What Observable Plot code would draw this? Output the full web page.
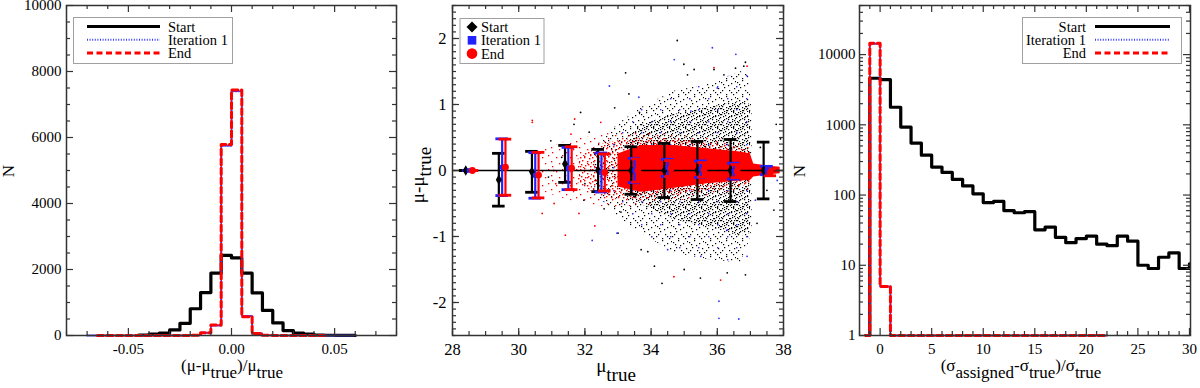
<!DOCTYPE html>
<html><head><meta charset="utf-8">
<script src="https://cdn.jsdelivr.net/npm/d3@7"></script>
<script src="https://cdn.jsdelivr.net/npm/@observablehq/plot@0.6"></script>
<style>
body{margin:0;background:#fff;}
#wrap{position:relative;width:1200px;height:388px;overflow:hidden;background:#fff;font-family:'Liberation Serif','DejaVu Serif',serif;}
.panel{position:absolute;top:0;width:400px;height:388px;}
.panel svg{overflow:visible;}
.panel svg text{font-family:'Liberation Serif','DejaVu Serif',serif !important;}
</style></head><body>
<svg width="0" height="0" style="position:absolute;left:0;top:0">
<defs>
<pattern id="blkSparse" width="16" height="16" patternUnits="userSpaceOnUse">
<g fill="#000">
<rect x="1" y="2" width="1.2" height="1.2"/><rect x="6" y="0" width="1.2" height="1.2"/><rect x="11" y="3" width="1.2" height="1.2"/>
<rect x="14" y="8" width="1.2" height="1.2"/><rect x="4" y="7" width="1.2" height="1.2"/><rect x="9" y="10" width="1.2" height="1.2"/>
<rect x="0" y="12" width="1.2" height="1.2"/><rect x="13" y="14" width="1.2" height="1.2"/><rect x="6" y="14" width="1.2" height="1.2"/>
<rect x="8" y="5" width="1.2" height="1.2"/><rect x="2" y="10" width="1.2" height="1.2"/><rect x="15" y="1" width="1.2" height="1.2"/>
<rect x="11" y="12" width="1.2" height="1.2"/><rect x="3" y="4" width="1.2" height="1.2"/>
</g></pattern>
<pattern id="blkDense" width="16" height="16" patternUnits="userSpaceOnUse">
<g fill="#000">
<rect x="2" y="0" width="1.2" height="1.2"/><rect x="8" y="1" width="1.2" height="1.2"/><rect x="13" y="0" width="1.2" height="1.2"/>
<rect x="5" y="3" width="1.2" height="1.2"/><rect x="11" y="4" width="1.2" height="1.2"/><rect x="0" y="5" width="1.2" height="1.2"/>
<rect x="15" y="6" width="1.2" height="1.2"/><rect x="3" y="8" width="1.2" height="1.2"/><rect x="8" y="7" width="1.2" height="1.2"/>
<rect x="12" y="9" width="1.2" height="1.2"/><rect x="6" y="11" width="1.2" height="1.2"/><rect x="1" y="12" width="1.2" height="1.2"/>
<rect x="10" y="13" width="1.2" height="1.2"/><rect x="14" y="12" width="1.2" height="1.2"/><rect x="4" y="15" width="1.2" height="1.2"/>
<rect x="7" y="14" width="1.2" height="1.2"/><rect x="13" y="15" width="1.2" height="1.2"/><rect x="9" y="4" width="1.2" height="1.2"/>
<rect x="4" y="1" width="1.2" height="1.2"/><rect x="10" y="10" width="1.2" height="1.2"/><rect x="1" y="9" width="1.2" height="1.2"/>
<rect x="14" y="3" width="1.2" height="1.2"/><rect x="6" y="6" width="1.2" height="1.2"/><rect x="11" y="15" width="1.2" height="1.2"/>
<rect x="3" y="13" width="1.2" height="1.2"/><rect x="15" y="10" width="1.2" height="1.2"/><rect x="12" y="7" width="1.2" height="1.2"/>
<rect x="0" y="2" width="1.2" height="1.2"/><rect x="8" y="12" width="1.2" height="1.2"/>
</g></pattern>
<pattern id="bluSparse" width="19" height="23" patternUnits="userSpaceOnUse">
<rect x="4" y="6" width="1.4" height="1.4" fill="#33f"/><rect x="13" y="17" width="1.4" height="1.4" fill="#33f"/>
</pattern>
<pattern id="redVerySparse" width="14" height="14" patternUnits="userSpaceOnUse">
<g fill="#f00">
<rect x="2" y="3" width="1.3" height="1.3"/><rect x="8" y="1" width="1.3" height="1.3"/>
<rect x="5" y="9" width="1.3" height="1.3"/><rect x="11" y="7" width="1.3" height="1.3"/><rect x="12" y="12" width="1.3" height="1.3"/>
</g></pattern>
<pattern id="redSparse" width="12" height="12" patternUnits="userSpaceOnUse">
<g fill="#f00">
<rect x="0" y="1" width="1.4" height="1.4"/><rect x="4" y="0" width="1.4" height="1.4"/><rect x="9" y="2" width="1.4" height="1.4"/>
<rect x="2" y="4" width="1.4" height="1.4"/><rect x="7" y="5" width="1.4" height="1.4"/><rect x="11" y="6" width="1.4" height="1.4"/>
<rect x="1" y="8" width="1.4" height="1.4"/><rect x="5" y="9" width="1.4" height="1.4"/><rect x="10" y="10" width="1.4" height="1.4"/>
<rect x="3" y="11" width="1.4" height="1.4"/><rect x="8" y="8" width="1.4" height="1.4"/>
</g></pattern>
</defs></svg>
<div id="wrap"></div>
<script>
// ---------------- DATA ----------------
// Panel 1: histogram of (mu - mu_true)/mu_true, bin edges and counts per bin
const p1Edges = [-0.07,-0.065,-0.06,-0.055,-0.05,-0.045,-0.04,-0.035,-0.03,-0.025,-0.02,-0.015,-0.01,-0.005,0,0.005,0.01,0.015,0.02,0.025,0.03,0.035,0.04,0.045,0.05,0.055,0.06,0.065];
const p1Start = [null,null,null,null,null,15,40,70,170,370,810,1300,1890,2430,2350,1890,1290,760,380,150,70,40,15,8,4,2,null];
const p1Iter1 = [0,0,0,0,0,0,0,0,0,2,10,80,300,5750,7400,590,60,10,3,0,0,0,0,0,0,0,null];
const p1End   = [null,0,0,0,0,0,0,0,0,2,10,80,320,5790,7440,570,60,10,3,0,0,0,0,null,null,null,null];
const p1XTicks = [-0.05, 0, 0.05];
const p1XMinor = [-0.08,-0.07,-0.06,-0.04,-0.03,-0.02,-0.01,0.01,0.02,0.03,0.04,0.06,0.07,0.08];
const p1YTicks = [0, 2000, 4000, 6000, 8000, 10000];
const p1YMinor = [500,1000,1500,2500,3000,3500,4500,5000,5500,6500,7000,7500,8500,9000,9500];

// Panel 2: binned means and scatter of mu - mu_true versus mu_true
const startX = [28.4,29.4,30.4,31.4,32.4,33.4,34.4,35.4,36.4,37.4];
const startMean = [0,-0.14,-0.02,0.10,0.0,0.0,0.0,0.0,0.0,0.0];
const startErr = [0,0.40,0.31,0.28,0.32,0.36,0.41,0.44,0.47,0.43];
const iterX = [28.5,29.5,30.5,31.5,32.5,33.5,34.5,35.5,36.5,37.5];
const iterMean = [0,0.05,-0.075,0.03,-0.03,0.0,0.04,0.02,-0.01,0.0];
const iterErr = [0,0.43,0.345,0.32,0.295,0.185,0.13,0.125,0.12,0.063];
const endX = [28.6,29.6,30.6,31.6,32.6,33.6,34.6,35.6,36.6,37.6];
const endMean = [0,0.05,-0.07,0.035,-0.03,0.0,0.03,0.01,-0.01,-0.03];
const endErr = [0,0.425,0.345,0.325,0.28,0.175,0.12,0.11,0.1,0.05];
// envelopes of the dense point clouds
const blackCloudX  = [32.3,33.0,33.7,34.7,35.7,36.7,36.95,37.05];
const blackCloudUp = [0.35,0.7,0.95,1.2,1.3,1.5,1.45,0.9];
const blackCloudLo = [-0.35,-0.7,-0.95,-1.25,-1.35,-1.4,-1.1,-0.9];
const blackCoreX  = [33.3,33.7,34.7,35.7,36.7,37.0];
const blackCoreUp = [0.5,0.7,0.85,0.95,1.05,1.0];
const blackCoreLo = [-0.45,-0.5,-0.75,-0.85,-1.0,-0.95];
const redHaloX  = [30.6,31.5,32.5,33.5,34.5,35.5,36.5,37.0];
const redHaloUp = [0.3,0.45,0.55,0.6,0.55,0.5,0.45,0.35];
const redHaloLo = [-0.3,-0.45,-0.55,-0.55,-0.5,-0.4,-0.35,-0.3];
const redFringeX  = [31.8,32.5,33.0,33.7,34.7,35.7,36.7,37.0];
const redFringeUp = [0.2,0.4,0.45,0.5,0.48,0.42,0.36,0.3];
const redFringeLo = [-0.2,-0.4,-0.45,-0.45,-0.38,-0.3,-0.25,-0.2];
const redCoreX  = [33.0,33.7,34.7,35.7,36.7,37.0,37.1,37.5,37.9];
const redCoreUp = [0.25,0.38,0.38,0.33,0.28,0.25,0.1,0.07,0.05];
const redCoreLo = [-0.25,-0.33,-0.27,-0.2,-0.16,-0.15,-0.1,-0.07,-0.05];
// individual scattered points
const startPtsX = [34.79,34.99,35.30,35.90,36.85,36.80,33.23,31.87,37.91,34.33,35.49,36.85,37.71,37.78,37.91,33.33,31.67,30.97,32.13,31.97,32.58,33.09,33.50,33.65,33.90,33.70,33.90,35.1,36.2,36.55,34.1,35.0,36.3,37.3,37.5,37.2,37.6,32.9,32.3,31.3,30.9,32.0,33.0];
const startPtsY = [1.97,1.61,1.53,1.53,1.64,1.58,1.48,0.88,0.48,-1.71,-1.63,-1.58,-0.60,0.70,0.20,1.16,0.70,0.45,0.58,-0.45,-0.58,-0.63,-0.40,0.88,0.55,-1.20,-1.23,1.45,1.45,1.55,-1.45,-1.5,-1.55,0.35,-0.3,-0.8,0.05,0.95,0.25,0.2,-0.1,-0.2,-0.95];
const iterPtsX = [35.85,36.56,34.70,32.74,33.63,32.22,32.97,36.05,36.05,36.65,37.15,37.81,36.0,35.5,34.5,36.9,35.2,36.3];
const iterPtsY = [1.86,1.76,1.68,1.28,1.11,-1.06,-0.95,-1.98,-2.24,-2.25,-0.45,-0.15,1.25,-1.3,-1.2,-1.3,0.9,-0.9];
const endPtsX = [30.41,30.41,31.69,30.71,31.41,34.69,36.10,31.07,32.30,31.06,31.12,31.82,32.48,31.58,35.9,36.9];
const endPtsY = [0.76,0.73,0.78,-0.65,-0.98,-1.61,-1.66,-0.50,-0.84,0.0,-0.2,-0.65,0.73,0.55,1.56,1.58];
const p2XTicks = [28,30,32,34,36,38];
const p2YTicks = [-2,-1,0,1,2];

// Panel 3: histogram of (sigma_assigned - sigma_true)/sigma_true (log counts)
const p3Edges = [-1.4,-1,0,1,2,3,4,5,6,7,8,9,10,11,12,13,14,15,16,17,18,19,20,21,22,23,24,25,26,27,28,29,30,31];
const p3Start = [1,4600,4400,1780,930,550,370,250,210,167,135,104,78,81,60,56,58,32,35,25,21,24,26,20,19,26,22,10,9,13,15,9,10.5];
const p3Iter1 = [1,14300,5,1,1,1,1,1,1,1,1,1,1,1,1,1,1,1,1,1,1,1,1,1,null,null,null,null,null,null,null,null,null];
const p3End   = [1,14500,5,1,1,1,1,1,1,1,1,1,1,1,1,1,1,1,1,1,1,1,1,1,null,null,null,null,null,null,null,null,null];
const p3XTicks = [0,5,10,15,20,25,30];
const p3YTicks = [1,10,100,1000,10000];

// ---------------- HELPERS ----------------
const FONT = "'Liberation Serif', 'DejaVu Serif', serif";
const FRAME = "#333";
function steps(edges, counts) {
  const out = [];
  counts.forEach((c, i) => { if (c == null) return; out.push({x: edges[i], y: c}); out.push({x: edges[i + 1], y: c}); });
  return out;
}
function band(xs, up, lo) { return xs.map((x, i) => ({x, y1: lo[i], y2: up[i]})); }
function pts(xs, ys) { return xs.map((x, i) => ({x, y: ys[i]})); }
function range(a, b, s) { const r = []; for (let v = a; v <= b + 1e-9; v += s) r.push(+v.toFixed(6)); return r; }
function frameTicks(xMaj, xMin, yMaj, yMin, w, h, mj = 7, mn = 4) {
  const o = {stroke: FRAME, strokeWidth: 1.2};
  return [
    Plot.tickX(xMaj, {x: d => d, insetTop: h - mj, ...o}), Plot.tickX(xMaj, {x: d => d, insetBottom: h - mj, ...o}),
    Plot.tickX(xMin, {x: d => d, insetTop: h - mn, ...o}), Plot.tickX(xMin, {x: d => d, insetBottom: h - mn, ...o}),
    Plot.tickY(yMaj, {y: d => d, insetRight: w - mj, ...o}), Plot.tickY(yMaj, {y: d => d, insetLeft: w - mj, ...o}),
    Plot.tickY(yMin, {y: d => d, insetRight: w - mn, ...o}), Plot.tickY(yMin, {y: d => d, insetLeft: w - mn, ...o}),
    Plot.frame({stroke: FRAME, strokeWidth: 1.5})
  ];
}
function label(svg, {x, y, rotate = false, size = 17, parts, shift = 6}) {
  const t = svg.append("text").style("font-family", FONT).attr("font-size", size)
    .attr("text-anchor", "middle").attr("fill", "#000");
  if (rotate) t.attr("transform", `translate(${x},${y}) rotate(-90)`); else t.attr("x", x).attr("y", y);
  let cur = 0;
  parts.forEach(([s, sub]) => {
    const want = sub ? shift : 0;
    t.append("tspan").attr("dy", want - cur).text(s);
    cur = want;
  });
}
function lineLegend(svg, {bx, by, bw, bh, rows, lx1, lx2, tx, anchor}) {
  svg.append("rect").attr("x", bx).attr("y", by).attr("width", bw).attr("height", bh)
    .attr("fill", "#fff").attr("stroke", "#a0a0a0").attr("stroke-width", 1);
  rows.forEach((r, i) => {
    const y = by + 9 + i * 13.3;
    svg.append("line").attr("x1", lx1).attr("x2", lx2).attr("y1", y).attr("y2", y)
      .attr("stroke", r.stroke).attr("stroke-width", r.width).attr("stroke-dasharray", r.dash || null);
    svg.append("text").attr("x", tx).attr("y", y + 5).style("font-family", FONT).attr("font-size", 14.5)
      .attr("text-anchor", anchor).attr("fill", "#000").text(r.name);
  });
}
const styleStart = {stroke: "#000", width: 3.2};
const styleIter = {stroke: "#3b3bff", width: 2, dash: "1,1.6"};
const styleEnd = {stroke: "#ff0000", width: 3, dash: "6,3.5"};
const wrap = document.getElementById("wrap");
function place(node, left) { const d = document.createElement("div"); d.className = "panel"; d.style.left = left + "px"; d.appendChild(node); wrap.appendChild(d); }

// ---------------- PANEL 1 ----------------
{
  const m = {l: 66, r: 4, t: 5, b: 53};
  const w = 400 - m.l - m.r, h = 388 - m.t - m.b;
  const p = Plot.plot({
    width: 400, height: 388, marginLeft: m.l, marginRight: m.r, marginTop: m.t, marginBottom: m.b,
    style: {fontFamily: FONT, fontSize: "15px", color: "#000", background: "transparent", overflow: "visible"},
    x: {domain: [-0.08, 0.08], ticks: p1XTicks, tickFormat: d => d.toFixed(2), tickSize: 0, tickPadding: 8, label: null},
    y: {domain: [0, 10000], ticks: p1YTicks, tickFormat: d => String(d), tickSize: 0, tickPadding: 5, label: null},
    marks: [
      Plot.line(steps(p1Edges, p1Start), {x: "x", y: "y", stroke: styleStart.stroke, strokeWidth: styleStart.width}),
      Plot.line(steps(p1Edges, p1Iter1), {x: "x", y: "y", stroke: styleIter.stroke, strokeWidth: styleIter.width, strokeDasharray: styleIter.dash}),
      Plot.line(steps(p1Edges, p1End), {x: "x", y: "y", stroke: styleEnd.stroke, strokeWidth: styleEnd.width, strokeDasharray: styleEnd.dash}),
      ...frameTicks(p1XTicks, p1XMinor, p1YTicks, p1YMinor, w, h)
    ]
  });
  const s = d3.select(p);
  lineLegend(s, {bx: 73.5, by: 17.5, bw: 159, bh: 46, lx1: 87, lx2: 160, tx: 168, anchor: "start",
    rows: [{name: "Start", ...styleStart}, {name: "Iteration 1", ...styleIter}, {name: "End", ...styleEnd}]});
  label(s, {x: 232, y: 371, parts: [["(μ-μ"], ["true", 1], [")/μ"], ["true", 1]], shift: 7});
  label(s, {x: 14, y: 171, rotate: true, parts: [["N"]]});
  place(p, 0);
}

// ---------------- PANEL 2 ----------------
{
  const m = {l: 52, r: 17, t: 5, b: 53};
  const w = 400 - m.l - m.r, h = 388 - m.t - m.b;
  const bar = (xs, ms, es) => xs.map((x, i) => ({x, m: ms[i], lo: ms[i] - es[i], hi: ms[i] + es[i]}));
  const capHalf = 0.19;
  const errMarks = (data, color, sw) => [
    Plot.ruleX(data, {x: "x", y1: "lo", y2: "hi", stroke: color, strokeWidth: sw}),
    Plot.ruleY(data, {y: "lo", x1: d => d.x - capHalf, x2: d => d.x + capHalf, stroke: color, strokeWidth: sw + 0.6}),
    Plot.ruleY(data, {y: "hi", x1: d => d.x - capHalf, x2: d => d.x + capHalf, stroke: color, strokeWidth: sw + 0.6})
  ];
  const sB = bar(startX, startMean, startErr), iB = bar(iterX, iterMean, iterErr), eB = bar(endX, endMean, endErr);
  const p = Plot.plot({
    width: 400, height: 388, marginLeft: m.l, marginRight: m.r, marginTop: m.t, marginBottom: m.b,
    style: {fontFamily: FONT, fontSize: "16.5px", color: "#000", background: "transparent", overflow: "visible"},
    x: {domain: [28, 38], ticks: p2XTicks, tickFormat: d => String(d), tickSize: 0, tickPadding: 8, label: null},
    y: {domain: [-2.5, 2.5], ticks: p2YTicks, tickFormat: d => String(d), tickSize: 0, tickPadding: 6, label: null},
    marks: [
      Plot.areaY(band(blackCloudX, blackCloudUp, blackCloudLo), {x: "x", y1: "y1", y2: "y2", fill: "url(#blkSparse)"}),
      Plot.areaY(band(blackCoreX, blackCoreUp, blackCoreLo), {x: "x", y1: "y1", y2: "y2", fill: "url(#blkDense)"}),
      Plot.areaY(band(blackCloudX, blackCloudUp, blackCloudLo), {x: "x", y1: "y1", y2: "y2", fill: "url(#bluSparse)"}),
      Plot.dot(pts(startPtsX, startPtsY), {x: "x", y: "y", r: 0.9, fill: "#000", stroke: "none"}),
      Plot.dot(pts(iterPtsX, iterPtsY), {x: "x", y: "y", r: 0.9, fill: "#33f", stroke: "none"}),
      Plot.dot(pts(endPtsX, endPtsY), {x: "x", y: "y", r: 0.9, fill: "#f00", stroke: "none"}),
      Plot.areaY(band(redHaloX, redHaloUp, redHaloLo), {x: "x", y1: "y1", y2: "y2", fill: "url(#redVerySparse)"}),
      Plot.areaY(band(redFringeX, redFringeUp, redFringeLo), {x: "x", y1: "y1", y2: "y2", fill: "url(#redSparse)"}),
      Plot.areaY(band(redCoreX, redCoreUp, redCoreLo), {x: "x", y1: "y1", y2: "y2", fill: "#f00"}),
      Plot.ruleY([0], {stroke: "#000", strokeWidth: 1.5}),
      ...errMarks(sB, "#000", 2.2),
      ...errMarks(iB, "#22f", 2.2),
      ...errMarks(eB, "#f00", 2.2),
      Plot.dot(sB, {x: "x", y: "m", symbol: "diamond", r: 3.2, fill: "#000", stroke: "none"}),
      Plot.dot(iB, {x: "x", y: "m", symbol: "square", r: 2.6, fill: "#22f", stroke: "none"}),
      Plot.dot(eB, {x: "x", y: "m", r: 3.4, fill: "#f00", stroke: "none"}),
      ...frameTicks(p2XTicks, range(28, 38, 0.5), p2YTicks, range(-2.5, 2.5, 0.1), w, h)
    ]
  });
  const s = d3.select(p);
  s.append("rect").attr("x", 60).attr("y", 18.5).attr("width", 84).attr("height", 45)
    .attr("fill", "#fff").attr("stroke", "#a0a0a0").attr("stroke-width", 1);
  const names = ["Start", "Iteration 1", "End"];
  names.forEach((n, i) => {
    const y = 27 + i * 13.3;
    s.append("text").attr("x", 81).attr("y", y + 5).attr("text-anchor", "start").style("font-family", FONT)
      .attr("font-size", 14.5).attr("fill", "#000").text(n);
  });
  s.append("path").attr("d", "M72,21.5L77.5,27L72,32.5L66.5,27Z").attr("fill", "#000");
  s.append("rect").attr("x", 67.7).attr("y", 36).attr("width", 8.6).attr("height", 8.6).attr("fill", "#22f");
  s.append("circle").attr("cx", 72).attr("cy", 53.6).attr("r", 5.3).attr("fill", "#f00");
  label(s, {x: 216, y: 372, size: 19, parts: [["μ"], ["true", 1]], shift: 9});
  label(s, {x: 24, y: 175, size: 19, rotate: true, parts: [["μ-μ"], ["true", 1]], shift: 7});
  place(p, 400);
}

// ---------------- PANEL 3 ----------------
{
  const m = {l: 59, r: 10, t: 5, b: 53};
  const w = 400 - m.l - m.r, h = 388 - m.t - m.b;
  const yMinor = [];
  [1, 10, 100, 1000, 10000].forEach(d => { for (let k = 2; k <= 9; k++) if (d * k <= 50000) yMinor.push(d * k); });
  const p = Plot.plot({
    width: 400, height: 388, marginLeft: m.l, marginRight: m.r, marginTop: m.t, marginBottom: m.b,
    style: {fontFamily: FONT, fontSize: "15px", color: "#000", background: "transparent", overflow: "visible"},
    x: {domain: [-2, 30.1], ticks: p3XTicks, tickFormat: d => String(d), tickSize: 0, tickPadding: 8, label: null},
    y: {type: "log", domain: [1, 50000], ticks: p3YTicks, tickFormat: d => String(d), tickSize: 0, tickPadding: 4, label: null},
    marks: [
      Plot.line(steps(p3Edges, p3Start), {x: "x", y: "y", stroke: styleStart.stroke, strokeWidth: styleStart.width, clip: true}),
      Plot.line(steps(p3Edges, p3Iter1), {x: "x", y: "y", stroke: styleIter.stroke, strokeWidth: styleIter.width, strokeDasharray: styleIter.dash}),
      Plot.line(steps(p3Edges, p3End), {x: "x", y: "y", stroke: styleEnd.stroke, strokeWidth: styleEnd.width, strokeDasharray: styleEnd.dash}),
      ...frameTicks(p3XTicks, range(-2, 30, 1).filter(v => v % 5 !== 0), p3YTicks, yMinor, w, h)
    ]
  });
  const s = d3.select(p);
  lineLegend(s, {bx: 222.5, by: 17.5, bw: 159, bh: 46, lx1: 295, lx2: 370, tx: 286, anchor: "end",
    rows: [{name: "Start", ...styleStart}, {name: "Iteration 1", ...styleIter}, {name: "End", ...styleEnd}]});
  label(s, {x: 221, y: 371, parts: [["(σ"], ["assigned", 1], ["-σ"], ["true", 1], [")/σ"], ["true", 1]], shift: 7});
  label(s, {x: 5, y: 171, rotate: true, parts: [["N"]]});
  place(p, 800);
}
</script>
</body></html>
